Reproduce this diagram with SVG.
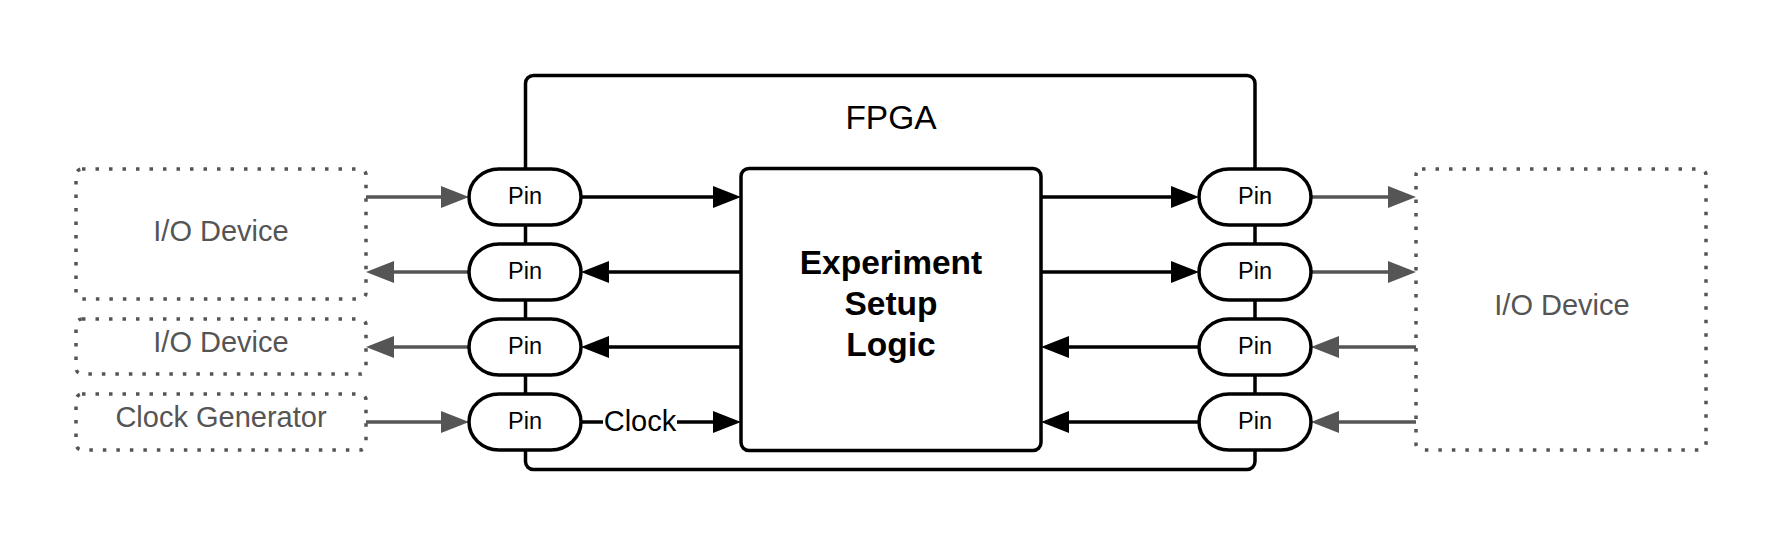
<svg xmlns="http://www.w3.org/2000/svg" width="1781" height="544" viewBox="0 0 1781 544">
<defs>
<style>
.box{fill:#fff;stroke:#000;stroke-width:3.5}
.dev{fill:none;stroke:#555;stroke-width:3.5;stroke-dasharray:3.5 10}
.devt{font-family:"Liberation Sans",Arial,sans-serif;font-size:29px;fill:#555;text-anchor:middle}
.pint{font-family:"Liberation Sans",Arial,sans-serif;font-size:23.5px;fill:#000;text-anchor:middle}
.lbl{font-family:"Liberation Sans",Arial,sans-serif;font-size:29px;fill:#000;text-anchor:middle}
.logt{font-family:"Liberation Sans",Arial,sans-serif;font-size:33.5px;font-weight:bold;fill:#000;text-anchor:middle}
.k{fill:none;stroke:#000;stroke-width:3.5}
.g{fill:none;stroke:#555;stroke-width:3.5}
</style>
<marker id="ak" viewBox="0 0 28 22" refX="18" refY="11" markerWidth="28" markerHeight="22" markerUnits="userSpaceOnUse" orient="auto"><path d="M0,0 L28,11 L0,22 z" fill="#000"/></marker>
<marker id="ag" viewBox="0 0 28 22" refX="18" refY="11" markerWidth="28" markerHeight="22" markerUnits="userSpaceOnUse" orient="auto"><path d="M0,0 L28,11 L0,22 z" fill="#555"/></marker>
</defs>
<rect width="1781" height="544" fill="#fff"/>
<g id="fpga">
<rect class="box" x="525.5" y="75.5" width="729.5" height="394" rx="8"/>
<text class="lbl" x="891" y="129" style="font-size:33.5px">FPGA</text>
</g>
<g id="logic">
<rect class="box" x="741" y="168.5" width="300" height="282" rx="8"/>
<text class="logt" x="891" y="274">Experiment</text>
<text class="logt" x="891" y="315">Setup</text>
<text class="logt" x="891" y="356">Logic</text>
</g>
<g id="io-left-1"><rect class="dev" x="76" y="169" width="290" height="130" rx="6"/><text class="devt" x="221" y="241">I/O Device</text></g>
<g id="io-left-2"><rect class="dev" x="76" y="319" width="290" height="55" rx="6"/><text class="devt" x="221" y="352">I/O Device</text></g>
<g id="clockgen"><rect class="dev" x="76" y="394" width="290" height="56" rx="6"/><text class="devt" x="221" y="427">Clock Generator</text></g>
<g id="io-right"><rect class="dev" x="1416" y="169" width="290" height="281" rx="6"/><text class="devt" x="1562" y="315">I/O Device</text></g>
<g id="connectors">
<line class="g" x1="366" y1="197" x2="459" y2="197" marker-end="url(#ag)"/>
<line class="g" x1="469" y1="272" x2="376" y2="272" marker-end="url(#ag)"/>
<line class="g" x1="469" y1="347" x2="376" y2="347" marker-end="url(#ag)"/>
<line class="g" x1="366" y1="422" x2="459" y2="422" marker-end="url(#ag)"/>
<line class="k" x1="581" y1="197" x2="731" y2="197" marker-end="url(#ak)"/>
<line class="k" x1="741" y1="272" x2="591" y2="272" marker-end="url(#ak)"/>
<line class="k" x1="741" y1="347" x2="591" y2="347" marker-end="url(#ak)"/>
<line class="k" x1="581" y1="422" x2="731" y2="422" marker-end="url(#ak)"/>
<rect x="603" y="406" width="74" height="30" fill="#fff"/>
<text class="lbl" x="640" y="431">Clock</text>
<line class="k" x1="1041" y1="197" x2="1189" y2="197" marker-end="url(#ak)"/>
<line class="k" x1="1041" y1="272" x2="1189" y2="272" marker-end="url(#ak)"/>
<line class="k" x1="1199" y1="347" x2="1051" y2="347" marker-end="url(#ak)"/>
<line class="k" x1="1199" y1="422" x2="1051" y2="422" marker-end="url(#ak)"/>
<line class="g" x1="1311" y1="197" x2="1406" y2="197" marker-end="url(#ag)"/>
<line class="g" x1="1311" y1="272" x2="1406" y2="272" marker-end="url(#ag)"/>
<line class="g" x1="1416" y1="347" x2="1321" y2="347" marker-end="url(#ag)"/>
<line class="g" x1="1416" y1="422" x2="1321" y2="422" marker-end="url(#ag)"/>
</g>
<g id="pin-l1"><rect class="box" x="469" y="169" width="112" height="56" rx="30" ry="28"/><text class="pint" x="525" y="204">Pin</text></g>
<g id="pin-l2"><rect class="box" x="469" y="244" width="112" height="56" rx="30" ry="28"/><text class="pint" x="525" y="279">Pin</text></g>
<g id="pin-l3"><rect class="box" x="469" y="319" width="112" height="56" rx="30" ry="28"/><text class="pint" x="525" y="354">Pin</text></g>
<g id="pin-l4"><rect class="box" x="469" y="394" width="112" height="56" rx="30" ry="28"/><text class="pint" x="525" y="429">Pin</text></g>
<g id="pin-r1"><rect class="box" x="1199" y="169" width="112" height="56" rx="30" ry="28"/><text class="pint" x="1255" y="204">Pin</text></g>
<g id="pin-r2"><rect class="box" x="1199" y="244" width="112" height="56" rx="30" ry="28"/><text class="pint" x="1255" y="279">Pin</text></g>
<g id="pin-r3"><rect class="box" x="1199" y="319" width="112" height="56" rx="30" ry="28"/><text class="pint" x="1255" y="354">Pin</text></g>
<g id="pin-r4"><rect class="box" x="1199" y="394" width="112" height="56" rx="30" ry="28"/><text class="pint" x="1255" y="429">Pin</text></g>
</svg>
